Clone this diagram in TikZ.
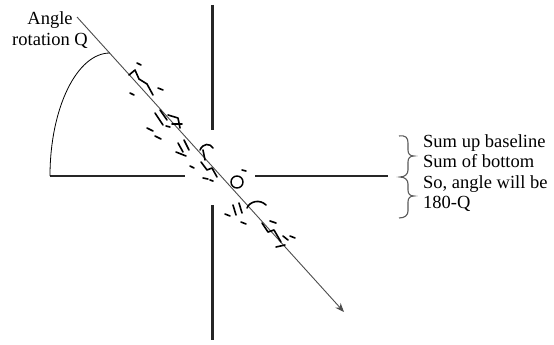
\documentclass[tikz,border=0pt]{standalone}
\usepackage{fontspec}
\setmainfont{Liberation Serif}
\usetikzlibrary{arrows.meta, positioning}
\tikzset{
  axisline/.style={line width=2.4pt, black!85},
  rotline/.style={line width=0.9pt, black!70, -{Stealth[length=9pt,width=7pt]}},
  scrib/.style={line width=1.6pt, line cap=round, line join=round},
  lbl/.style={font=\fontsize{18.5}{20.5}\selectfont, inner sep=0pt}
}

\begin{document}
\begin{tikzpicture}[x=1pt, y=-1pt]
  \useasboundingbox (0,0) rectangle (554,345);
  % axes, broken round the crossing
  \coordinate (xl) at (50,176);  \coordinate (xlm) at (185,176);
  \coordinate (xrm) at (255,176); \coordinate (xr) at (388,176);
  \coordinate (yt) at (212.5,5);  \coordinate (ytm) at (212.5,130);
  \coordinate (ybm) at (212.5,205); \coordinate (yb) at (212.5,340);
  \draw[axisline] (xl) -- (xlm);
  \draw[axisline] (xrm) -- (xr);
  \draw[axisline] (yt) -- (ytm);
  \draw[axisline] (ybm) -- (yb);
  % rotated line and angle arc
  \coordinate (rotstart) at (77,17);
  \coordinate (rotend) at (344,312);
  \coordinate (arcend) at (110,53);
  \draw[rotline] (rotstart) -- (rotend);
  \draw[line width=0.8pt] (xl) .. controls (50,108) and (77,53) .. (arcend);
  % scribbles along the line
  \draw[scrib] (129,75) -- (135,70) -- (139,79) -- (147,84) -- (153,95);
  \draw[scrib] (137,63) -- (141,65) (158,88) -- (163,90) (130,93) -- (134,95);
  \draw[scrib] (155,113) -- (163,125) (160,110) -- (167,120)
    (168,115) -- (178,118) -- (180,128) (172,124) -- (182,124);
  \draw[scrib] (147,128) -- (153,131) (155,136) -- (161,139) (166,126) -- (170,127);
  \draw[scrib] (178,143) -- (183,152) (184,140) -- (189,150) (176,152) -- (186,156);
  \draw[scrib] (200,150) .. controls (203,143) and (210,143) .. (213,148) (203,150) -- (205,160);
  \draw[scrib] (190,166) -- (194,168) (201,162) -- (207,170) -- (212,168) -- (217,177);
  \draw[scrib] (203,178) -- (208,179) (210,180) -- (213,181) (242,170) -- (246,171);
  \draw[line width=1.4pt] (237,182) circle[radius=6];
  \draw[scrib] (233,205) -- (236,215) (239,203) -- (242,213);
  \draw[scrib] (247,208) .. controls (250,201) and (260,199) .. (266,205);
  \draw[scrib] (225,214) -- (230,216) (241,222) -- (246,224);
  \draw[scrib] (262,223) -- (268,232) -- (274,230) -- (281,242)
    (270,221) -- (276,223) (283,236) -- (288,240);
  \draw[scrib] (290,236) -- (295,238) (276,247) -- (285,245);
  % labels
  \node[lbl, align=center, anchor=north] (anglelbl) at (50,11.5) {Angle\\rotation Q};
  \draw[line width=1.1pt, black!65]
    (399,136) .. controls (406,135) and (408,138) .. (408,143) -- (408,150)
    .. controls (408,154) and (410,156) .. (414,156)
    .. controls (410,156) and (408,158) .. (408,162) -- (408,170)
    .. controls (408,174) and (405,177) .. (400,177)
    .. controls (405,177) and (408,180) .. (408,184) -- (408,190)
    .. controls (408,194) and (410,196) .. (414,196)
    .. controls (410,196) and (408,198) .. (408,202) -- (408,211)
    .. controls (408,215) and (405,218) .. (399,218);
  \node[lbl, align=left, anchor=north west] (notelbl) at (423,134)
    {Sum up baseline\\Sum of bottom\\So, angle will be\\180-Q};
\end{tikzpicture}
\end{document}
